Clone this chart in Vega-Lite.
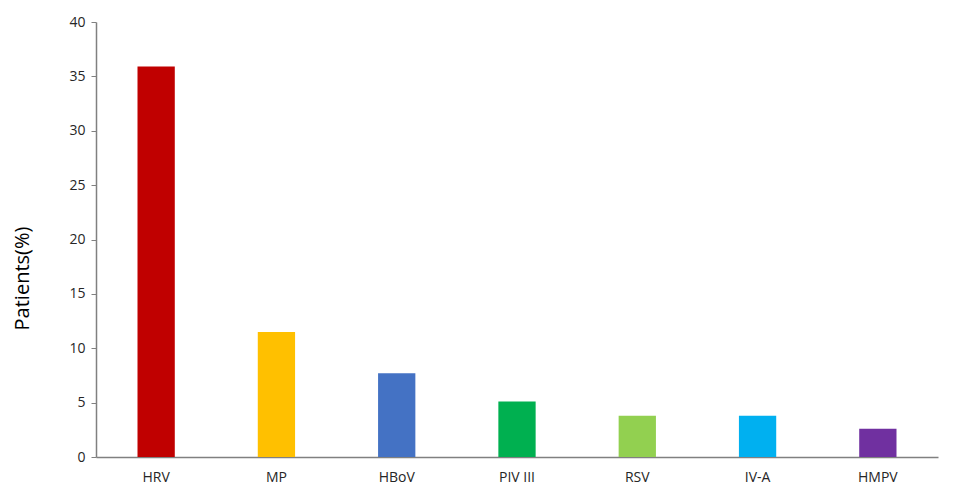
{
  "$schema": "https://vega.github.io/schema/vega-lite/v6.json",
  "width": 842,
  "height": 435,
  "autosize": {"type": "none"},
  "padding": {"left": 96, "top": 22, "right": 19, "bottom": 37},
  "background": "white",
  "config": {
    "view": {"stroke": null},
    "font": "Open Sans"
  },
  "data": {
    "values": [
      {"virus": "HRV", "pct": 35.9},
      {"virus": "MP", "pct": 11.5},
      {"virus": "HBoV", "pct": 7.7},
      {"virus": "PIV III", "pct": 5.1},
      {"virus": "RSV", "pct": 3.8},
      {"virus": "IV-A", "pct": 3.8},
      {"virus": "HMPV", "pct": 2.6}
    ]
  },
  "mark": {"type": "bar"},
  "encoding": {
    "x": {
      "field": "virus",
      "type": "nominal",
      "sort": null,
      "scale": {"paddingInner": 0.69, "paddingOuter": 0.345},
      "axis": {
        "title": null,
        "labelAngle": 0,
        "ticks": false,
        "domainColor": "#808080",
        "domainWidth": 1.5,
        "labelPadding": 13,
        "labelFontSize": 14,
        "labelColor": "#262626",
        "labelFont": "Open Sans"
      }
    },
    "y": {
      "field": "pct",
      "type": "quantitative",
      "scale": {"domain": [0, 40]},
      "axis": {
        "title": "Patients(%)",
        "values": [0, 5, 10, 15, 20, 25, 30, 35, 40],
        "grid": false,
        "domainColor": "#808080",
        "domainWidth": 1.5,
        "tickColor": "#808080",
        "tickSize": 5,
        "labelPadding": 6,
        "labelFontSize": 14,
        "labelColor": "#262626",
        "titleFontSize": 20,
        "titleFontWeight": "normal",
        "titleColor": "#000000",
        "titlePadding": 36,
        "titleY": 256
      }
    },
    "color": {
      "field": "virus",
      "type": "nominal",
      "legend": null,
      "scale": {
        "domain": ["HRV", "MP", "HBoV", "PIV III", "RSV", "IV-A", "HMPV"],
        "range": ["#C00000", "#FFC000", "#4472C4", "#00B050", "#92D050", "#00B0F0", "#7030A0"]
      }
    }
  }
}
